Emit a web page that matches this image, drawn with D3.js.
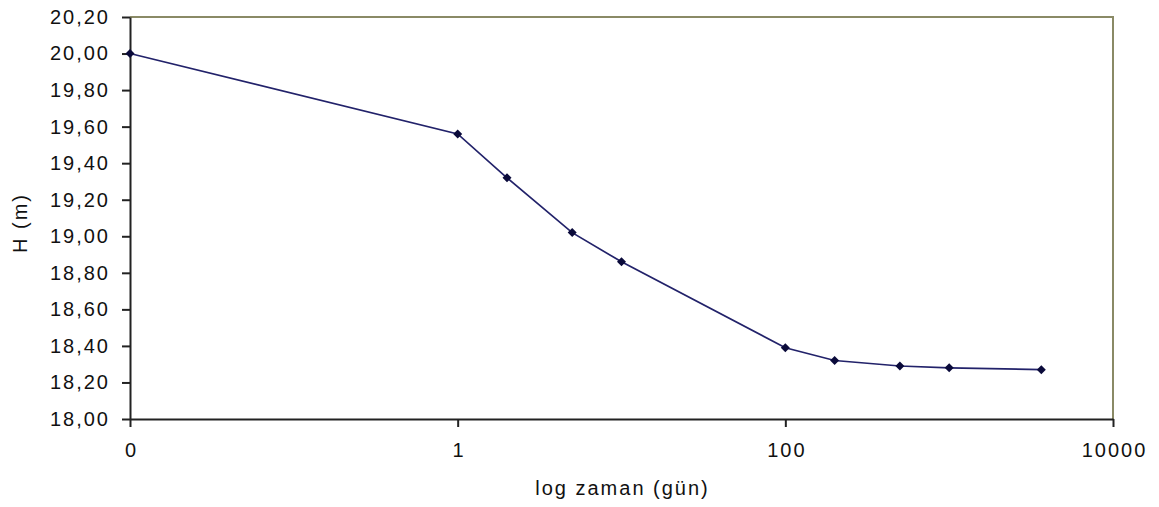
<!DOCTYPE html>
<html>
<head>
<meta charset="utf-8">
<script src="https://cdn.jsdelivr.net/npm/d3@7"></script>
<style>
  html, body { margin: 0; padding: 0; background: #fff; }
  svg { display: block; }
  text { font-family: "Liberation Sans", Arial, sans-serif; fill: #111; }
</style>
</head>
<body>
<svg id="chart" width="1159" height="507"></svg>
<script>
// Time in days (the first reading sits at the axis origin, labelled "0")
const days = [0.01, 1, 2, 5, 10, 100, 200, 500, 1000, 3650];
// Head H in metres
const head = [20.00, 19.56, 19.32, 19.02, 18.86, 18.39, 18.32, 18.29, 18.28, 18.27];

const xTickValues = [0.01, 1, 100, 10000];
const xTickLabels = ["0", "1", "100", "10000"];
const yTickValues = [18.0, 18.2, 18.4, 18.6, 18.8, 19.0, 19.2, 19.4, 19.6, 19.8, 20.0, 20.2];

const xTitle = "log zaman (gün)";
const yTitle = "H (m)";

const svg = d3.select("#chart");
const plot = { left: 130, right: 1113, top: 17, bottom: 419 };
const FONT = 20, SPACING = 2;

const x = d3.scaleLog().domain([0.01, 10000]).range([plot.left, plot.right]);
const y = d3.scaleLinear().domain([18.0, 20.2]).range([plot.bottom, plot.top]);

const fmt = v => v.toFixed(2).replace(".", ",");

// Frame: top and right edges
svg.append("path")
  .attr("d", `M${plot.left},${plot.top}H${plot.right}V${plot.bottom}`)
  .attr("fill", "none")
  .attr("stroke", "#8a8a66")
  .attr("stroke-width", 2);

function styleAxis(g) {
  g.select(".domain").attr("stroke", "#222").attr("stroke-width", 2);
  g.selectAll(".tick line").attr("stroke", "#222").attr("stroke-width", 2);
  g.selectAll(".tick text")
    .attr("font-size", FONT).attr("letter-spacing", SPACING).attr("fill", "#111")
    .attr("font-family", "'Liberation Sans', Arial, sans-serif");
}

// Y axis
const yAxis = svg.append("g")
  .attr("transform", `translate(${plot.left},0)`)
  .call(d3.axisLeft(y).tickValues(yTickValues).tickFormat(fmt)
    .tickSize(8).tickPadding(12).tickSizeOuter(0));
styleAxis(yAxis);

// X axis
const xAxis = svg.append("g")
  .attr("transform", `translate(0,${plot.bottom})`)
  .call(d3.axisBottom(x).tickValues(xTickValues)
    .tickFormat((d, i) => xTickLabels[i]).tickSize(8).tickPadding(16).tickSizeOuter(0));
styleAxis(xAxis);
xAxis.selectAll(".tick text").attr("dx", SPACING / 2);

// Series line
const line = d3.line().x((d, i) => x(days[i])).y(d => y(d));
svg.append("path")
  .datum(head)
  .attr("d", line)
  .attr("fill", "none")
  .attr("stroke", "#22226a")
  .attr("stroke-width", 1.7);

// Diamond markers
svg.append("g").selectAll("path")
  .data(head)
  .join("path")
  .attr("transform", (d, i) => `translate(${x(days[i])},${y(d)})`)
  .attr("d", "M0,-4.5L4.5,0L0,4.5L-4.5,0Z")
  .attr("fill", "#0a0a3a");

// Axis titles
svg.append("text")
  .attr("x", (plot.left + plot.right) / 2 + SPACING / 2)
  .attr("y", 495)
  .attr("text-anchor", "middle")
  .attr("font-size", FONT).attr("letter-spacing", SPACING)
  .text(xTitle);

svg.append("text")
  .attr("transform", `translate(22,${(plot.top + plot.bottom) / 2 + 5}) rotate(-90)`)
  .attr("text-anchor", "middle")
  .attr("dominant-baseline", "middle")
  .attr("font-size", FONT).attr("letter-spacing", SPACING)
  .text(yTitle);
</script>
</body>
</html>
